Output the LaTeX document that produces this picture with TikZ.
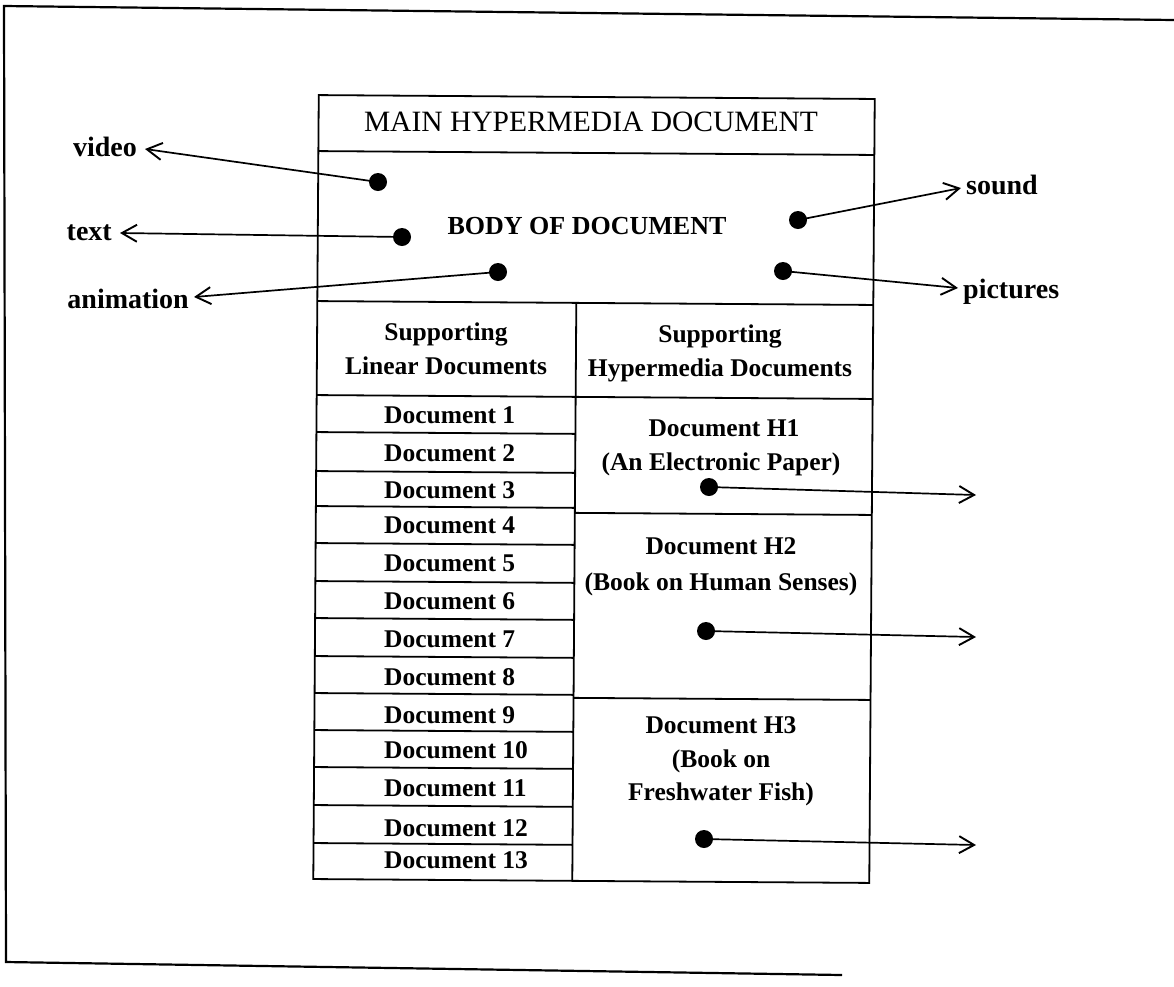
\documentclass[tikz,border=0pt]{standalone}
\usepackage{fontspec}
\setmainfont{Liberation Serif}
\usetikzlibrary{arrows.meta}
\tikzset{
  tline/.style={line width=1.8pt},
  fline/.style={line width=2.2pt},
  dot/.style={circle,fill=black,inner sep=0pt,minimum size=18pt},
  conn/.style={line width=1.7pt,-{Straight Barb[length=15pt,width=17pt,line width=1.9pt]}},
  lbl/.style={font=\fontsize{28}{32}\selectfont\bfseries,inner sep=0pt},
  doc/.style={font=\fontsize{25.5}{30}\selectfont\bfseries,inner sep=0pt,anchor=base west},
  hdr/.style={font=\fontsize{25.5}{30}\selectfont\bfseries,inner sep=0pt,anchor=base},
  ttl/.style={font=\fontsize{29.5}{34}\selectfont,inner sep=0pt,anchor=base},
  bdy/.style={font=\fontsize{26}{30}\selectfont\bfseries,inner sep=0pt}
}
\begin{document}
\begin{tikzpicture}[x=1pt,y=-1pt]
\useasboundingbox (0,0) rectangle (1174,986);
% outer frame
\draw[fline] (1174,20) -- (4,6) -- (6,962) -- (842,975);
% table lines
\begin{scope}[rotate around={-0.4:(595,490)}]
  \draw[tline] (316,97) rectangle (872,881);
  \draw[tline] (316,153) -- (872,153);
  \draw[tline] (316,303) -- (872,303);
  \draw[tline] (575,303) -- (575,881);
  \draw[tline] (316,397) -- (872,397);
  \foreach \yy in {434,473,508,545,583,620,658,695,732,769,807,845}
    \draw[tline] (316,\yy) -- (575,\yy);
  \draw[tline] (575,513) -- (872,513);
  \draw[tline] (575,698) -- (872,698);
\end{scope}
% texts
\node[ttl] (title) at (591,131) {MAIN HYPERMEDIA DOCUMENT};
\node[bdy] (body) at (587,226) {BODY OF DOCUMENT};
\node[hdr] (hla) at (446,340) {Supporting};
\node[hdr] (hlb) at (446,374) {Linear Documents};
\node[hdr] (hra) at (720,342) {Supporting};
\node[hdr] (hrb) at (720,376) {Hypermedia Documents};
\foreach \n/\yy in {1/423,2/461,3/498,4/533,5/571,6/609,7/647,8/685,9/723,10/758,11/796,12/836,13/868}
  \node[doc] (d\n) at (384,\yy) {Document \n};
\node[hdr] (h1a) at (724,436) {Document H1};
\node[hdr] (h1b) at (721,470) {(An Electronic Paper)};
\node[hdr] (h2a) at (721,554) {Document H2};
\node[hdr] (h2b) at (721,590) {(Book on Human Senses)};
\node[hdr] (h3a) at (721,733) {Document H3};
\node[hdr] (h3b) at (721,767) {(Book on};
\node[hdr] (h3c) at (721,800) {Freshwater Fish)};
% dots
\node[dot] (pv) at (378,182) {};
\node[dot] (pt) at (402,237) {};
\node[dot] (pa) at (498,272) {};
\node[dot] (ps) at (798,220) {};
\node[dot] (pp) at (783,271) {};
\node[dot] (p1) at (709,487) {};
\node[dot] (p2) at (706,631) {};
\node[dot] (p3) at (704,839) {};
% labels
\node[lbl,anchor=base east] (video) at (137,156) {video};
\node[lbl,anchor=base east] (text) at (112,240) {text};
\node[lbl,anchor=base east] (anim) at (189,308) {animation};
\node[lbl,anchor=base west] (sound) at (966,194) {sound};
\node[lbl,anchor=base west] (pict) at (963,298) {pictures};
\coordinate (e1) at (976,495);
\coordinate (e2) at (976,637);
\coordinate (e3) at (976,845);
% connectors
\draw[conn] (pv.center) -- ([shift={(8,-7)}]video.base east);
\draw[conn] (pt.center) -- ([shift={(8,-7)}]text.base east);
\draw[conn] (pa.center) -- ([shift={(5,-11)}]anim.base east);
\draw[conn] (ps.center) -- ([shift={(-5,-6)}]sound.base west);
\draw[conn] (pp.center) -- ([shift={(-5,-10)}]pict.base west);
\draw[conn] (p1.center) -- (e1);
\draw[conn] (p2.center) -- (e2);
\draw[conn] (p3.center) -- (e3);
\end{tikzpicture}
\end{document}
